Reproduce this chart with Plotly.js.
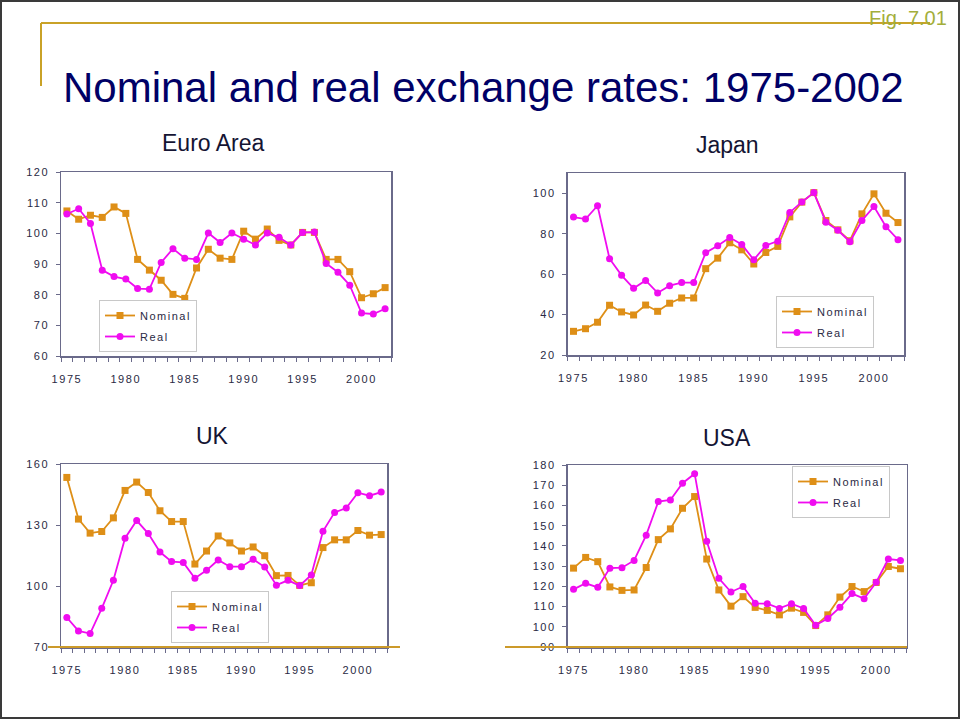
<!DOCTYPE html>
<html>
<head>
<meta charset="utf-8">
<script src="https://cdn.plot.ly/plotly-3.0.1.min.js"></script>
<style>
  html, body { margin: 0; padding: 0; background: #fff; }
  #wrap { position: relative; width: 960px; height: 719px; }
  #chart { width: 960px; height: 719px; }
  #frame { position: absolute; left: 0; top: 0; width: 960px; height: 719px; box-sizing: border-box; border: 2px solid #3a3a3a; pointer-events: none; }
  g[class$="tick"] text { letter-spacing: 1.6px; }
  .legendtext, g[class^="legend"] text { letter-spacing: 1.5px; }
</style>
</head>
<body>
<div id="wrap"><div id="chart"></div><div id="frame"></div></div>
<script>
const years = [1975,1976,1977,1978,1979,1980,1981,1982,1983,1984,1985,1986,1987,1988,1989,1990,1991,1992,1993,1994,1995,1996,1997,1998,1999,2000,2001,2002];
const xTickVals = [1975,1980,1985,1990,1995,2000];

const euroNominal = [107.3,104.6,105.9,105.2,108.6,106.5,91.5,88.0,84.7,80.1,78.8,88.7,94.8,91.9,91.5,100.7,98.1,101.4,97.7,96.2,100.3,100.3,91.5,91.5,87.5,79.0,80.3,82.3];
const euroReal    = [106.3,108.0,103.2,88.0,85.9,85.1,82.0,81.8,90.5,95.0,91.9,91.5,100.1,97.0,100.1,98.1,96.2,100.1,98.7,96.2,100.3,100.4,90.2,87.3,83.1,74.0,73.7,75.4];

const japanNominal = [31.7,33.0,36.2,44.6,41.3,39.8,44.7,41.6,45.6,48.2,48.2,62.7,67.9,75.5,72.0,65.0,70.7,73.7,88.3,95.6,100.3,86.5,81.9,76.5,89.8,99.7,90.1,85.5];
const japanReal    = [88.2,87.2,93.8,67.6,59.4,53.0,56.9,50.7,54.3,55.8,55.8,70.6,74.0,78.1,74.7,67.1,74.2,76.3,90.5,95.7,100.3,85.7,81.7,76.0,86.5,93.4,83.4,77.0];

const ukNominal = [153.4,132.9,126.0,126.8,133.5,147.0,151.1,146.0,137.0,131.7,131.7,110.8,117.2,124.6,121.2,117.2,119.2,114.9,105.1,105.2,100.3,101.6,118.9,122.7,122.7,127.3,125.0,125.3];
const ukReal    = [84.5,77.9,76.6,89.0,102.8,123.5,132.2,125.8,116.7,112.0,111.6,103.8,107.7,112.8,109.5,109.5,113.1,109.3,100.4,102.8,100.2,105.4,126.9,136.2,138.3,145.9,144.4,146.2];

const usNominal = [129.0,134.3,132.2,119.7,118.0,118.2,129.3,143.1,148.4,158.6,164.4,133.5,118.2,110.2,114.9,109.6,108.1,105.9,109.2,107.1,100.6,105.9,114.7,119.9,117.4,121.9,129.8,128.7];
const usReal    = [118.5,121.5,119.5,129.0,129.2,132.8,145.3,161.9,162.7,171.0,175.7,142.3,124.0,117.2,119.9,111.6,111.4,109.1,111.4,109.1,100.8,104.1,109.6,116.4,113.9,122.0,133.5,132.8];

const panelTitles = ['Euro Area','Japan','UK','USA'];
const seriesNames = ['Nominal','Real'];
const mainTitle = 'Nominal and real exchange rates: 1975-2002';
const figLabel = 'Fig. 7.01';

const NOM_COLOR = '#DE8F17';
const REAL_COLOR = '#F00CF0';
const AXIS_COLOR = '#6A6A8A';
const TICK_FONT = {family: 'Liberation Sans, Arial, sans-serif', size: 11, color: '#2A2A44'};

const panels = [
  {nom: euroNominal, real: euroReal, ax: '', leg: 'legend'},
  {nom: japanNominal, real: japanReal, ax: '2', leg: 'legend2'},
  {nom: ukNominal, real: ukReal, ax: '3', leg: 'legend3'},
  {nom: usNominal, real: usReal, ax: '4', leg: 'legend4'}
];

const traces = [];
panels.forEach((p, i) => {
  traces.push({
    x: years, y: p.nom, name: seriesNames[0], type: 'scatter', mode: 'lines+markers',
    xaxis: 'x' + p.ax, yaxis: 'y' + p.ax, legend: p.leg, legendgroup: 'n' + i,
    line: {color: NOM_COLOR, width: 1.8},
    marker: {symbol: 'square', size: 7, color: NOM_COLOR},
    cliponaxis: false
  });
  traces.push({
    x: years, y: p.real, name: seriesNames[1], type: 'scatter', mode: 'lines+markers',
    xaxis: 'x' + p.ax, yaxis: 'y' + p.ax, legend: p.leg, legendgroup: 'r' + i,
    line: {color: REAL_COLOR, width: 1.8},
    marker: {symbol: 'circle', size: 7, color: REAL_COLOR},
    cliponaxis: false
  });
});

const W = 960, H = 719;
function dx(a, b) { return [a / W, b / W]; }
function dy(top, bottom) { return [1 - bottom / H, 1 - top / H]; }

function xAxis(domain, anchor) {
  return {
    domain: domain, anchor: anchor, range: [1974.5, 2002.5],
    tickmode: 'array', tickvals: xTickVals, ticktext: xTickVals.map(String),
    ticks: '', ticklabelstandoff: 12,
    minor: {ticks: 'outside', tick0: 1974.5, dtick: 1, ticklen: 4, tickcolor: AXIS_COLOR, tickwidth: 1},
    showline: true, mirror: true, linecolor: AXIS_COLOR, linewidth: 1.5,
    showgrid: false, zeroline: false, tickfont: TICK_FONT, fixedrange: true
  };
}
function yAxis(domain, anchor, range, dtick) {
  return {
    domain: domain, anchor: anchor, range: range, dtick: dtick, tick0: range[0],
    ticks: 'outside', ticklen: 4, tickcolor: AXIS_COLOR, tickwidth: 1,
    ticklabelstandoff: 4,
    showline: true, mirror: true, linecolor: AXIS_COLOR, linewidth: 1.5,
    showgrid: false, zeroline: false, tickfont: TICK_FONT, fixedrange: true
  };
}

const legendBase = {
  xanchor: 'left', yanchor: 'top', bgcolor: '#FFFFFF', bordercolor: '#C8C8C8', borderwidth: 1,
  font: {family: 'Liberation Sans, Arial, sans-serif', size: 11, color: '#2A2A44'},
  tracegroupgap: 2, itemwidth: 30, entrywidth: 44, entrywidthmode: 'pixels'
};

const layout = {
  width: W, height: H,
  margin: {l: 0, r: 0, t: 0, b: 0},
  paper_bgcolor: '#FFFFFF', plot_bgcolor: '#FFFFFF',
  showlegend: true,
  xaxis:  xAxis(dx(61, 391), 'y'),
  yaxis:  yAxis(dy(172, 356), 'x', [60, 120], 10),
  xaxis2: xAxis(dx(567.5, 904), 'y2'),
  yaxis2: yAxis(dy(173, 355), 'x2', [20, 110], 20),
  xaxis3: xAxis(dx(61, 387), 'y3'),
  yaxis3: yAxis(dy(464, 647), 'x3', [70, 160], 30),
  xaxis4: xAxis(dx(567.5, 906.5), 'y4'),
  yaxis4: yAxis(dy(465, 647), 'x4', [90, 180], 10),
  legend:  Object.assign({}, legendBase, {x: 99 / W, y: 1 - 300 / H}),
  legend2: Object.assign({}, legendBase, {x: 776 / W, y: 1 - 296 / H}),
  legend3: Object.assign({}, legendBase, {x: 171 / W, y: 1 - 591 / H}),
  legend4: Object.assign({}, legendBase, {x: 792 / W, y: 1 - 466 / H}),
  shapes: [
    {type: 'line', xref: 'paper', yref: 'paper', x0: 41 / W, x1: 930 / W, y0: 1 - 23 / H, y1: 1 - 23 / H, line: {color: '#C9A227', width: 2}},
    {type: 'line', xref: 'paper', yref: 'paper', x0: 41 / W, x1: 41 / W, y0: 1 - 23 / H, y1: 1 - 86 / H, line: {color: '#C9A227', width: 2}},
    {type: 'line', xref: 'paper', yref: 'paper', x0: 48 / W, x1: 400 / W, y0: 1 - 647 / H, y1: 1 - 647 / H, line: {color: '#CC9A2A', width: 2}},
    {type: 'line', xref: 'paper', yref: 'paper', x0: 505 / W, x1: 907 / W, y0: 1 - 647 / H, y1: 1 - 647 / H, line: {color: '#CC9A2A', width: 2}}
  ],
  annotations: [
    {text: mainTitle, xref: 'paper', yref: 'paper', x: 483.5 / W, y: 1 - 87 / H, xanchor: 'center', yanchor: 'middle', showarrow: false,
     font: {family: 'Liberation Sans, Arial, sans-serif', size: 42, color: '#000066'}},
    {text: figLabel, xref: 'paper', yref: 'paper', x: 949 / W, y: 1 - 18 / H, xanchor: 'right', yanchor: 'middle', showarrow: false,
     font: {family: 'Liberation Sans, Arial, sans-serif', size: 20, color: '#A3AE3A'}},
    {text: panelTitles[0], xref: 'paper', yref: 'paper', x: 213 / W, y: 1 - 143 / H, xanchor: 'center', yanchor: 'middle', showarrow: false,
     font: {family: 'Liberation Sans, Arial, sans-serif', size: 23, color: '#141433'}},
    {text: panelTitles[1], xref: 'paper', yref: 'paper', x: 727 / W, y: 1 - 145 / H, xanchor: 'center', yanchor: 'middle', showarrow: false,
     font: {family: 'Liberation Sans, Arial, sans-serif', size: 23, color: '#141433'}},
    {text: panelTitles[2], xref: 'paper', yref: 'paper', x: 212 / W, y: 1 - 436 / H, xanchor: 'center', yanchor: 'middle', showarrow: false,
     font: {family: 'Liberation Sans, Arial, sans-serif', size: 23, color: '#141433'}},
    {text: panelTitles[3], xref: 'paper', yref: 'paper', x: 727 / W, y: 1 - 438 / H, xanchor: 'center', yanchor: 'middle', showarrow: false,
     font: {family: 'Liberation Sans, Arial, sans-serif', size: 23, color: '#141433'}}
  ]
};

Plotly.newPlot('chart', traces, layout, {displayModeBar: false, staticPlot: true});
</script>
</body>
</html>
